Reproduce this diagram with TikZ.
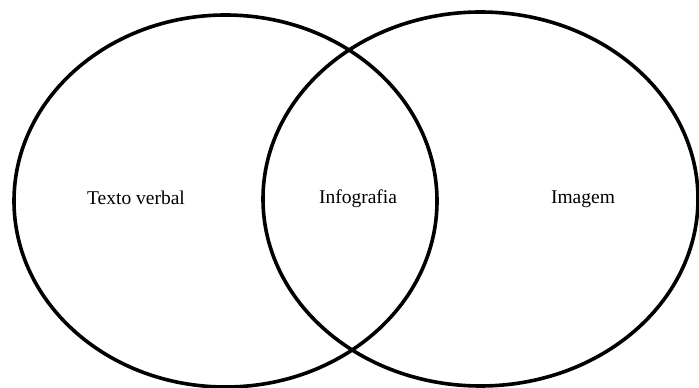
\documentclass[tikz,border=0pt]{standalone}
\usepackage{fontspec}
\setmainfont{Liberation Serif}
\usetikzlibrary{shapes.geometric}

\begin{document}
\begin{tikzpicture}[x=1pt, y=1pt, set/.style = {draw, ellipse, line width=3.6pt, inner sep=0pt}, lbl/.style = {font=\fontsize{19.5}{23}\selectfont}]
            \useasboundingbox (0,0) rectangle (699,388);
            \node[set, minimum width=423pt, minimum height=372pt] (L) at (225.5,187) {};
            \node[set, minimum width=435pt, minimum height=374pt] (R) at (480.5,189) {};

            \node[lbl] (verbal) at (136,190) {Texto verbal};
            \node[lbl] (info) at (358,189) {Infografia};
            \node[lbl] (img) at (583,189) {Imagem};
        \end{tikzpicture}
\end{document}
